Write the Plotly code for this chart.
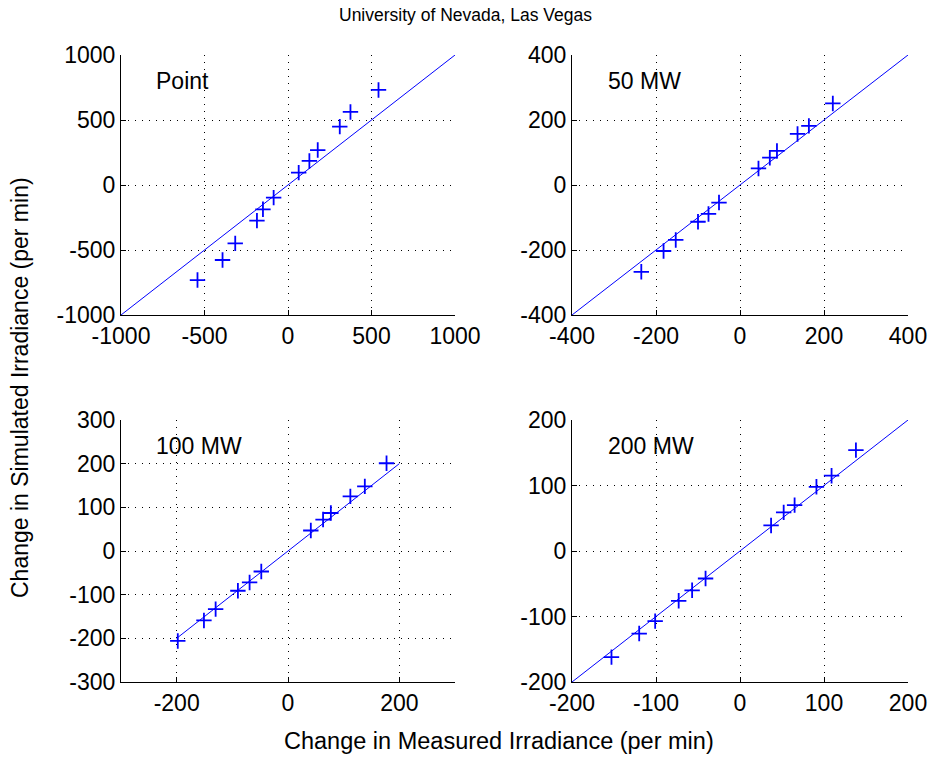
import plotly.graph_objects as go

# Measured vs simulated change in irradiance, per panel
point_x = [-542, -392, -316, -186, -150, -86, 64, 128, 178, 310, 374, 542]
point_y = [-731, -577, -449, -274, -187, -97, 95, 185, 269, 449, 562, 731]

mw50_x = [-235, -182, -153, -100, -75, -50, 44, 71, 88, 137, 164, 221]
mw50_y = [-267, -203, -169, -113, -89, -54, 51, 84, 105, 157, 182, 251]

mw100_x = [-198, -151, -130, -90, -69, -48, 41, 63, 77, 112, 138, 177]
mw100_y = [-206, -159, -133, -91, -72, -47, 47, 72, 87, 125, 148, 201]

mw200_x = [-153, -120, -101, -73, -57, -41, 37, 52, 65, 91, 109, 138]
mw200_y = [-162, -126, -107, -76, -60, -42, 39, 59, 70, 98, 115, 154]

panel_names = ["Point", "50 MW", "100 MW", "200 MW"]
axis_limits = [1000, 400, 300, 200]
xtick_values = [
    [-1000, -500, 0, 500, 1000],
    [-400, -200, 0, 200, 400],
    [-200, 0, 200],
    [-200, -100, 0, 100, 200],
]
ytick_values = [
    [-1000, -500, 0, 500, 1000],
    [-400, -200, 0, 200, 400],
    [-300, -200, -100, 0, 100, 200, 300],
    [-200, -100, 0, 100, 200],
]
line_ends = [[-1000, 1000], [-400, 400], [-200, 200], [-200, 200]]

series = [(point_x, point_y), (mw50_x, mw50_y), (mw100_x, mw100_y), (mw200_x, mw200_y)]

W, H = 929, 757
FONT = "Liberation Sans"
BLUE = "rgb(0,0,255)"

# panel boxes in pixels: (left, right, top, bottom)
boxes = [(121, 455, 55, 315), (572, 908, 55, 315),
         (121, 455, 420, 682), (572, 908, 420, 682)]

fig = go.Figure()
layout = {}
for i, ((xs, ys), lim, box) in enumerate(zip(series, axis_limits, boxes)):
    n = "" if i == 0 else str(i + 1)
    xa, ya = "x" + n, "y" + n
    fig.add_trace(go.Scatter(
        x=line_ends[i], y=line_ends[i], mode="lines",
        line=dict(color=BLUE, width=1), xaxis=xa, yaxis=ya, showlegend=False,
        hoverinfo="skip"))
    fig.add_trace(go.Scatter(
        x=xs, y=ys, mode="markers",
        marker=dict(symbol="cross-thin-open", size=11, color=BLUE,
                    line=dict(color=BLUE, width=1.8)),
        xaxis=xa, yaxis=ya, showlegend=False))
    l, r, t, b = box
    common = dict(
        showgrid=True, gridcolor="black", gridwidth=1, griddash="1px,6px",
        zeroline=False, showline=True, linecolor="black", linewidth=1,
        ticks="inside", ticklen=5, tickcolor="black", automargin=False,
        tickfont=dict(family=FONT, size=23, color="black"),
        fixedrange=True)
    layout["xaxis" + n] = dict(
        domain=[l / W, r / W], range=[-lim, lim], tickvals=xtick_values[i],
        ticktext=[str(v) for v in xtick_values[i]], anchor=ya, **common)
    layout["yaxis" + n] = dict(
        domain=[1 - b / H, 1 - t / H], range=[-lim, lim], tickvals=ytick_values[i],
        ticktext=[str(v) for v in ytick_values[i]], anchor=xa, **common)
    fig.add_annotation(
        x=-0.8 * lim, y=0.8 * lim, xref=xa, yref=ya, text=panel_names[i],
        showarrow=False, xanchor="left", yanchor="middle",
        font=dict(family=FONT, size=23, color="black"))

fig.update_layout(
    width=W, height=H, margin=dict(l=0, r=0, t=0, b=0, autoexpand=False),
    paper_bgcolor="white", plot_bgcolor="white", **layout)

fig.add_annotation(
    x=465 / W, y=1 - 15 / H, xref="paper", yref="paper",
    text="University of Nevada, Las Vegas", showarrow=False,
    xanchor="center", yanchor="middle",
    font=dict(family=FONT, size=17.5, color="black"))
fig.add_annotation(
    x=499 / W, y=1 - 741 / H, xref="paper", yref="paper",
    text="Change in Measured Irradiance (per min)", showarrow=False,
    xanchor="center", yanchor="middle",
    font=dict(family=FONT, size=23.5, color="black"))
fig.add_annotation(
    x=20 / W, y=1 - 388 / H, xref="paper", yref="paper",
    text="Change in Simulated Irradiance (per min)", showarrow=False,
    textangle=-90, xanchor="center", yanchor="middle",
    font=dict(family=FONT, size=23, color="black"))

fig.write_html("out.html")
